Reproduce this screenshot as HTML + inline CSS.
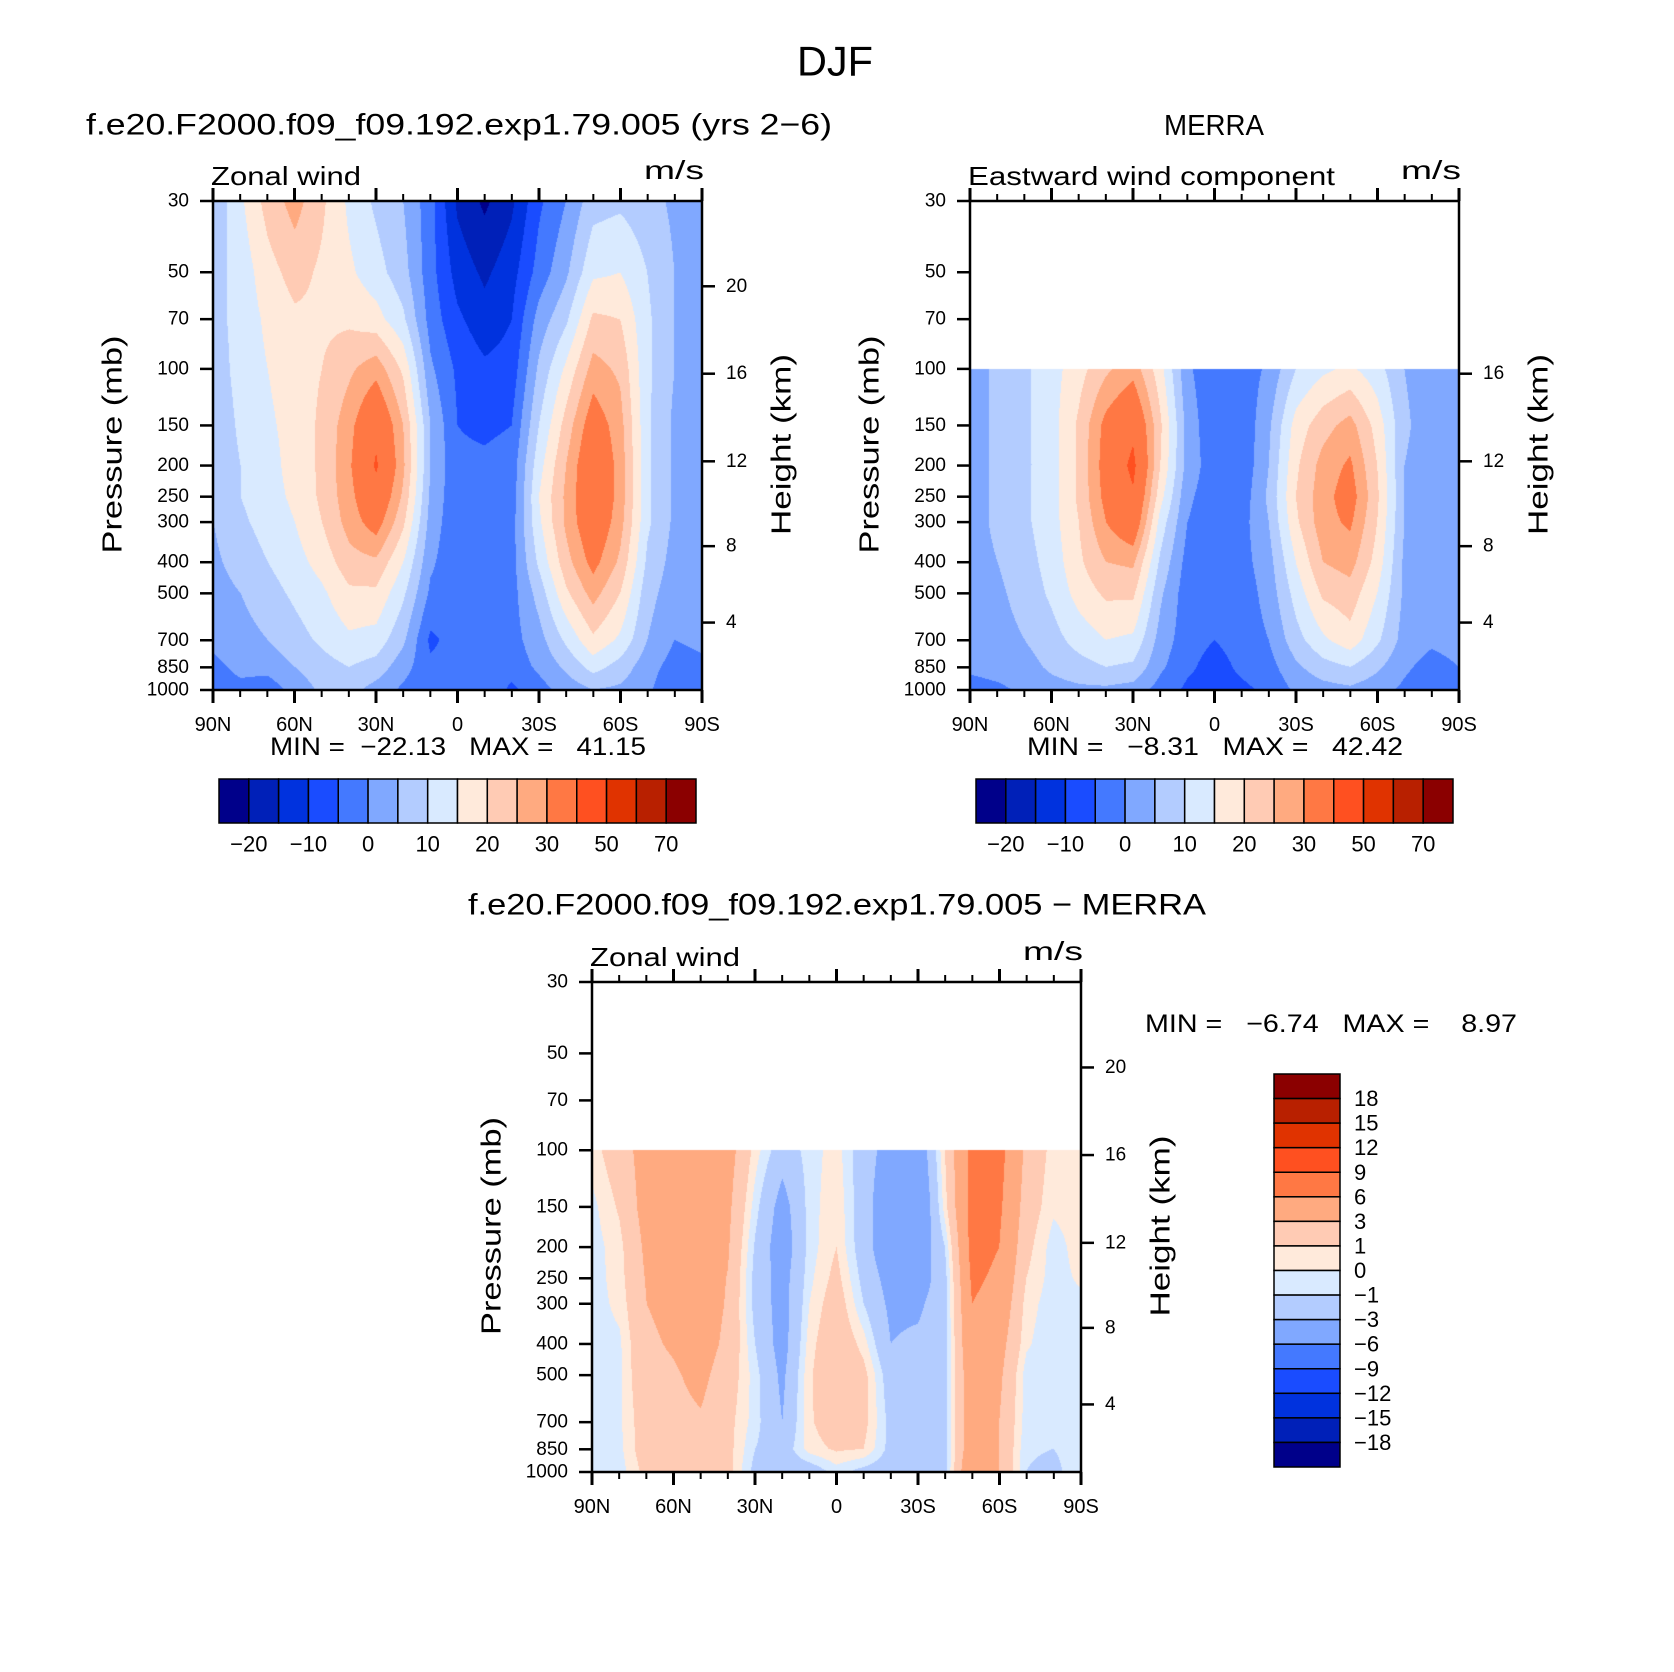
<!DOCTYPE html>
<html><head><meta charset="utf-8">
<style>
html,body{margin:0;padding:0;background:#fff;}
#wrap{position:relative;width:1674px;height:1672px;overflow:hidden;background:#fff;}
canvas{position:absolute;}
svg{position:absolute;left:0;top:0;}
text{font-family:"Liberation Sans",sans-serif;fill:#000;white-space:pre;}
</style></head>
<body>
<div id="wrap">
<canvas id="c1" width="489" height="489" style="left:213px;top:201px"></canvas>
<canvas id="c2" width="489" height="489" style="left:970px;top:201px"></canvas>
<canvas id="c3" width="489" height="490" style="left:592px;top:982px"></canvas>
<svg id="ov" width="1674" height="1672"></svg>
</div>
<script>
// ---- data ----
const lats = ["90N","80N","70N","60N","50N","40N","30N","20N","10N","0","10S","20S","30S","40S","50S","60S","70S","80S","90S"];
const levels = [1000,850,700,500,400,300,250,200,150,100,70,50,30];
const levelsShort = [1000,850,700,500,400,300,250,200,150,100];
const contourLevelsAbs = [-20,-15,-10,-5,0,5,10,15,20,25,30,40,50,60,70];
const contourLevelsDiff = [-18,-15,-12,-9,-6,-3,-1,0,1,3,6,9,12,15,18];
const colorsCb = ["#00008a","#0020b8","#0032de","#1a4cff","#4479ff","#80a8ff","#b3ccff","#d9eaff","#ffeadb","#ffcbb4","#ffaa80","#ff7844","#ff5020","#e03300","#b82000","#8b0000"];
const absLabels = ["−20","−10","0","10","20","30","50","70"];
const diffLabels = ["18","15","12","9","6","3","1","0","−1","−3","−6","−9","−12","−15","−18"];
const pTicks = [1000,850,700,500,400,300,250,200,150,100,70,50,30];
const kmTicks = [20,16,12,8,4];
const kmPressure = [55.3,103.5,194,356.5,616.6];
const latTicks = ["90N","60N","30N","0","30S","60S","90S"];
// model zonal wind (columns by lat, rows by level 1000..30)
const field1 = [
[-2,-1,1,3,4,5,5,6,6,7,8,8,6],
[-1,1,3,5,7,9,10,10,11,12,12,12,14],
[-3,2,5,8,10,12,13,13,14,15,16,18,22],
[2,5,8,11,13,15,16,17,17,18,19,22,27],
[6,8,11,14,17,20,21,21,21,20,19,19,21],
[7,10,14,19,23,27,28,29,28,24,19,16,14],
[3,8,13,19,24,33,37,41,38,28,17,12,9],
[-1,2,6,11,15,21,24,26,25,19,11,7,5],
[-4,-4,-6,-1,1,3,4,5,5,1,-2,-3,-3],
[-4,-3,-3,-3,-4,-4,-4,-4,-5,-6,-9,-12,-16],
[-1,-4,-2,-3,-4,-4,-4,-4,-6,-9,-13,-16,-21],
[-6,-3,-2,-2,-2,-2,-3,-3,-5,-8,-10,-12,-16],
[-2,1,3,7,11,14,15,13,10,6,2,-3,-6],
[2,6,11,19,23,26,26,25,22,16,9,4,0],
[5,12,19,27,32,36,37,37,34,27,21,14,8],
[4,8,14,20,24,27,28,28,27,24,20,15,9],
[1,2,5,7,9,11,11,11,11,11,11,10,7],
[-4,-2,0,2,3,4,4,4,4,5,5,5,4],
[-3,-1,1,2,2,3,3,3,3,3,3,3,3]];
// MERRA eastward wind (levels 1000..100)
const field2 = [
[-2,1,2,2,3,3,3,3,3,3],
[-1,2,3,4,5,6,6,6,6,6],
[1,3,5,7,8,9,9,9,9,9],
[3,6,8,11,12,13,13,13,13,13],
[4,8,12,17,19,20,21,21,21,18],
[4,10,15,21,25,30,32,33,32,24],
[3,9,14,21,26,36,39,42,38,28],
[-2,1,3,6,9,13,17,20,21,17],
[-6,-4,-3,-3,-2,0,1,3,3,1],
[-7,-7,-5,-4,-3,-3,-3,-3,-4,-4],
[-6,-4,-3,-3,-2,-2,-3,-4,-4,-3],
[-4,-2,0,2,3,5,6,5,4,1],
[1,4,8,12,15,19,20,19,17,10],
[3,8,14,21,25,28,28,27,23,14],
[4,10,18,23,27,31,33,31,27,16],
[2,6,11,15,18,20,21,20,18,12],
[-1,1,3,4,4,5,5,5,6,5],
[-4,-2,1,2,2,2,2,2,2,2],
[-1,0,2,2,2,2,2,2,2,2]];
// difference (levels 1000..100)
const field3 = [
[-0.5,-0.5,-0.5,-0.5,-0.5,-0.5,-0.5,-0.5,-0.3,0.5],
[-0.5,-0.3,-0.2,-0.2,-0.2,0.3,0.5,0.6,1.2,2],
[1.5,2,2,2.5,2.7,3,3.2,3.5,4,4],
[2,2,2.5,2.8,3.2,3.5,3.7,4,4.5,4.5],
[3,2.5,2.8,3.5,4,4.2,4.3,4.5,4.5,4.5],
[1.5,1.5,1.5,2,2.5,2.8,2.9,3.2,3.5,4],
[-1.5,-1,-0.5,-0.5,-1,-1.5,-1.5,-1.2,-0.5,0.5],
[-2,-2,-3,-3.5,-4,-4,-4,-4.5,-4,-2],
[-2,0.5,0.8,0.8,0.5,0,-0.3,-0.5,-0.5,-0.5],
[-0.5,1.2,2,2.5,2.5,2,1.5,1,0.8,0.5],
[-1.5,1,1.5,1.5,0.5,-1,-1.5,-2,-2,-2],
[-2,-1.5,-1.5,-2,-3,-3.5,-4,-5,-5,-4],
[-2,-2,-2,-2,-2.5,-3.5,-4.5,-5,-6,-5],
[-1.5,-1.5,-1.5,-1.5,-1.5,-1.5,-1.5,-1,0.5,1],
[6,5,5,5,5.5,6,6.5,7,7,7],
[3,3,3,3.5,4,5,5.5,6,6.5,7],
[-1,-0.8,-0.5,-0.5,0.2,0.5,1,1.5,2,2.5],
[-1.5,-1,-1,-1,-0.8,-0.6,-0.5,-0.5,0.2,0.5],
[0,-0.3,-0.3,-0.3,-0.3,-0.3,0.2,0.5,0.5,0.5]];

// ---- axis functions ----
const L30 = Math.log10(30), LR = Math.log10(1000/30);
function yOfP(p, top, H){ return top + H*(Math.log10(p)-L30)/LR; }
function xOfLat(i, left, W){ return left + W*i/18; }

function hex(c){return [parseInt(c.slice(1,3),16),parseInt(c.slice(3,5),16),parseInt(c.slice(5,7),16)];}
const rgbCb = colorsCb.map(hex);

function drawField(id, field, lev, cl){
  const cv=document.getElementById(id), ctx=cv.getContext('2d');
  const W=cv.width,H=cv.height, img=ctx.createImageData(W,H);
  const logs=lev.map(p=>Math.log10(p));
  const pmin=lev[lev.length-1];
  for(let y=0;y<H;y++){
    const lp = L30 + LR*(y/(H-1));
    if(lp < Math.log10(pmin)-1e-9){ continue; }
    let r=0; while(r<logs.length-2 && lp<logs[r+1]) r++;
    let t=(logs[r]-lp)/(logs[r]-logs[r+1]); t=Math.max(0,Math.min(1,t));
    for(let x=0;x<W;x++){
      const fx=x/(W-1)*18; let c=Math.min(17,Math.floor(fx)); const u=fx-c;
      const v00=field[c][r],v01=field[c][r+1],v10=field[c+1][r],v11=field[c+1][r+1];
      const v=(v00*(1-t)+v01*t)*(1-u)+(v10*(1-t)+v11*t)*u;
      let k=0; while(k<cl.length && v>=cl[k]) k++;
      const col=rgbCb[k], o=(y*W+x)*4;
      img.data[o]=col[0];img.data[o+1]=col[1];img.data[o+2]=col[2];img.data[o+3]=255;
    }
  }
  ctx.putImageData(img,0,0);
}
drawField('c1',field1,levels,contourLevelsAbs);
drawField('c2',field2,levelsShort,contourLevelsAbs);
drawField('c3',field3,levelsShort,contourLevelsDiff);

// ---- overlay ----
const svg=document.getElementById('ov'), NS='http://www.w3.org/2000/svg';
function el(tag,attrs,txt){const e=document.createElementNS(NS,tag);for(const k in attrs)e.setAttribute(k,attrs[k]);if(txt!==undefined)e.textContent=txt;svg.appendChild(e);return e;}
function txt(x,y,s,size,anchor,name,tl){const a={x:x,y:y,'font-size':size,'text-anchor':anchor||'start','dominant-baseline':'central'};
if(tl){a.textLength=tl;a.lengthAdjust='spacingAndGlyphs';}
const e=el('text',a,s);


return e;}

function axes(left,top,W,H,opts,pfx){
  const fr=el('rect',{x:left,y:top,width:W,height:H,fill:'none',stroke:'#000','stroke-width':2.5});
  
  
  for(let i=0;i<=18;i++){
    const x=xOfLat(i,left,W), major=i%3===0, len=major?13:7;
    el('line',{x1:x,y1:top+H,x2:x,y2:top+H+len,stroke:'#000','stroke-width':major?3:2});
    el('line',{x1:x,y1:top,x2:x,y2:top-len,stroke:'#000','stroke-width':major?3:2});
  }
  latTicks.forEach((s,j)=>txt(xOfLat(j*3,left,W),top+H+35,s,20,'middle',pfx+'-x-tick-label'));
  pTicks.forEach(p=>{const y=yOfP(p,top,H);
    el('line',{x1:left-13,y1:y,x2:left,y2:y,stroke:'#000','stroke-width':2.5});
    txt(left-24,y,String(p),19,'end',pfx+'-y-tick-label');});
  kmTicks.forEach((k,i)=>{ if(opts.noKm && opts.noKm.includes(k)) return;
    const y=yOfP(kmPressure[i],top,H);
    el('line',{x1:left+W,y1:y,x2:left+W+13,y2:y,stroke:'#000','stroke-width':2.5});
    txt(left+W+24,y,String(k),19,'start',pfx+'-km-tick-label');});
  let e=el('text',{x:0,y:0,'font-size':28,'text-anchor':'middle','dominant-baseline':'central',textLength:218,lengthAdjust:'spacingAndGlyphs',transform:`translate(${left-101},${top+H/2-1}) rotate(-90)`},'Pressure (mb)');
  
  
  e=el('text',{x:0,y:0,'font-size':28,'text-anchor':'middle','dominant-baseline':'central',textLength:181,lengthAdjust:'spacingAndGlyphs',transform:`translate(${left+W+79},${top+H/2-1}) rotate(-90)`},'Height (km)');
  
  
  txt(left-2,top-25,opts.left,26,'start',pfx+'-variable-label',opts.tl);
  txt(left+W+2,top-31,'m/s',26,'end',pfx+'-units-label',60);
}
axes(213,201,489,489,{left:'Zonal wind',tl:150},'model');
axes(970,201,489,489,{left:'Eastward wind component',tl:367,noKm:[20]},'merra');
axes(592,982,489,490,{left:'Zonal wind',tl:150},'diff');

txt(835,61,'DJF',42,'middle','figure-title',76);
txt(459,125,'f.e20.F2000.f09_f09.192.exp1.79.005 (yrs 2−6)',30,'middle','model-title',746);
txt(1214,126,'MERRA',29,'middle','merra-title',100);
txt(837,905,'f.e20.F2000.f09_f09.192.exp1.79.005 − MERRA',30,'middle','difference-title',738);
txt(458,747,'MIN =  −22.13   MAX =   41.15',25,'middle','model-min-max',376);
txt(1215,747,'MIN =   −8.31   MAX =   42.42',25,'middle','merra-min-max',376);
txt(1331,1024,'MIN =   −6.74   MAX =    8.97',25,'middle','diff-min-max',372);

function hbar(x0,y0,w,h,pfx){
  const bw=w/16;
  colorsCb.forEach((c,i)=>{const r=el('rect',{x:x0+i*bw,y:y0,width:bw,height:h,fill:c,stroke:'#000','stroke-width':1.5});
    
    });
  absLabels.forEach((s,j)=>txt(x0+(1+2*j)*bw,y0+h+21,s,22,'middle',pfx+'-colorbar-label'));
}
hbar(219,779,477,44,'model');
hbar(976,779,477,44,'merra');
(function(){const x0=1274,y0=1074,w=66,h=393,bh=h/16;
  for(let i=0;i<16;i++){const r=el('rect',{x:x0,y:y0+i*bh,width:w,height:bh,fill:colorsCb[15-i],stroke:'#000','stroke-width':1.5});
    
    }
  diffLabels.forEach((s,j)=>txt(x0+w+14,y0+(j+1)*bh,s,22,'start','diff-colorbar-label'));
})();
</script>
</body></html>
